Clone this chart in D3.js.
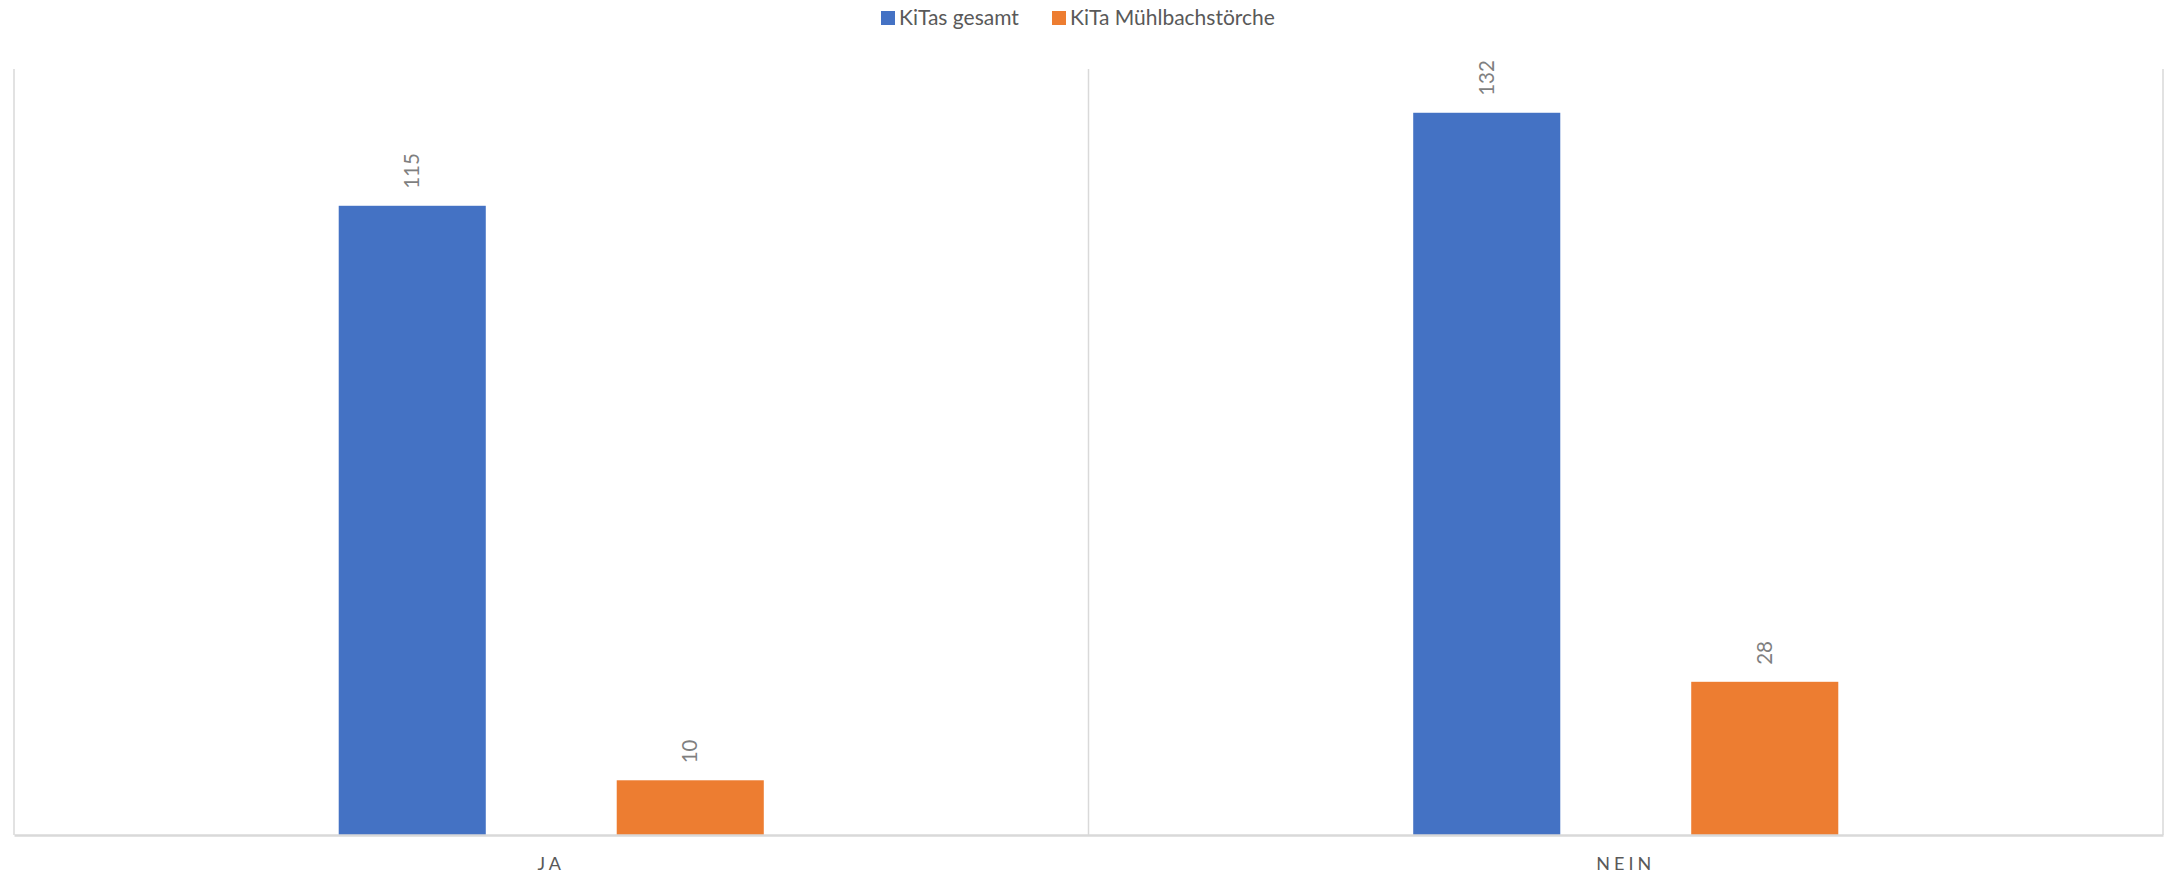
<!DOCTYPE html>
<html>
<head>
<meta charset="utf-8">
<script src="https://cdn.jsdelivr.net/npm/d3@7"></script>
<style>
  html, body { margin: 0; padding: 0; background: #ffffff; }
  svg { display: block; }
</style>
</head>
<body>
<svg id="chart" width="2165" height="875"></svg>
<script>
const categories = ["JA", "NEIN"];
const seriesNames = ["KiTas gesamt", "KiTa Mühlbachstörche"];
const kitasGesamt = [115, 132];
const kitaMuehlbach = [10, 28];
const seriesColors = ["#4472C4", "#ED7D31"];

const seriesValues = [kitasGesamt, kitaMuehlbach];
const rows = categories.map((c, i) => ({
  cat: c,
  vals: seriesNames.map((s, j) => ({ series: s, value: seriesValues[j][i], color: seriesColors[j] }))
}));

const W = 2165, H = 875;
const m = { left: 14, right: 2, top: 69, bottom: 40 };
const svg = d3.select("#chart");
const font = "Lato, 'Noto Sans', sans-serif";

const x0 = d3.scaleBand().domain(categories).range([m.left, W - m.right]).padding(0);
const x1 = d3.scaleBand().domain(seriesNames).range([0, x0.bandwidth()])
  .paddingInner(0.471).paddingOuter(1.168);
const y = d3.scaleLinear().domain([0, 140]).range([H - m.bottom, m.top]);

// category separators (vertical gridlines)
const edges = categories.map(c => x0(c)).concat([x0(categories[categories.length - 1]) + x0.bandwidth()]);
svg.append("g").selectAll("line").data(edges).join("line")
  .attr("x1", d => d).attr("x2", d => d)
  .attr("y1", y(140)).attr("y2", y(0))
  .attr("stroke", "#d9d9d9").attr("stroke-width", 1.5);

// bars
const g = svg.append("g").selectAll("g").data(rows).join("g")
  .attr("transform", d => `translate(${x0(d.cat)},0)`);
g.selectAll("rect").data(d => d.vals).join("rect")
  .attr("x", d => x1(d.series))
  .attr("width", x1.bandwidth())
  .attr("y", d => y(d.value))
  .attr("height", d => y(0) - y(d.value))
  .attr("fill", d => d.color);

// data labels (rotated)
g.selectAll("text").data(d => d.vals).join("text")
  .attr("transform", d => `translate(${x1(d.series) + x1.bandwidth() / 2 + 7},${y(d.value) - 17}) rotate(-90)`)
  .attr("text-anchor", "start")
  .attr("font-family", font).attr("font-size", 20.5)
  .attr("fill", "#7f7f7f")
  .text(d => d.value);

// baseline axis
const xAxis = d3.axisBottom(x0).tickSize(0).tickPadding(22);
const ax = svg.append("g").attr("transform", `translate(0,${y(0)})`).call(xAxis);
ax.select(".domain").attr("stroke", "#d9d9d9").attr("stroke-width", 2.5);
ax.selectAll("text")
  .attr("font-family", font).attr("font-size", 18)
  .attr("fill", "#595959").attr("letter-spacing", "4px");

// legend
const legend = svg.append("g");
const legendX = [881, 1052];
seriesNames.forEach((s, i) => {
  legend.append("rect").attr("x", legendX[i]).attr("y", 11).attr("width", 14).attr("height", 14)
    .attr("fill", seriesColors[i]);
  legend.append("text").attr("x", legendX[i] + 18).attr("y", 25)
    .attr("font-family", font).attr("font-size", 21).attr("fill", "#595959")
    .text(s);
});
</script>
</body>
</html>
